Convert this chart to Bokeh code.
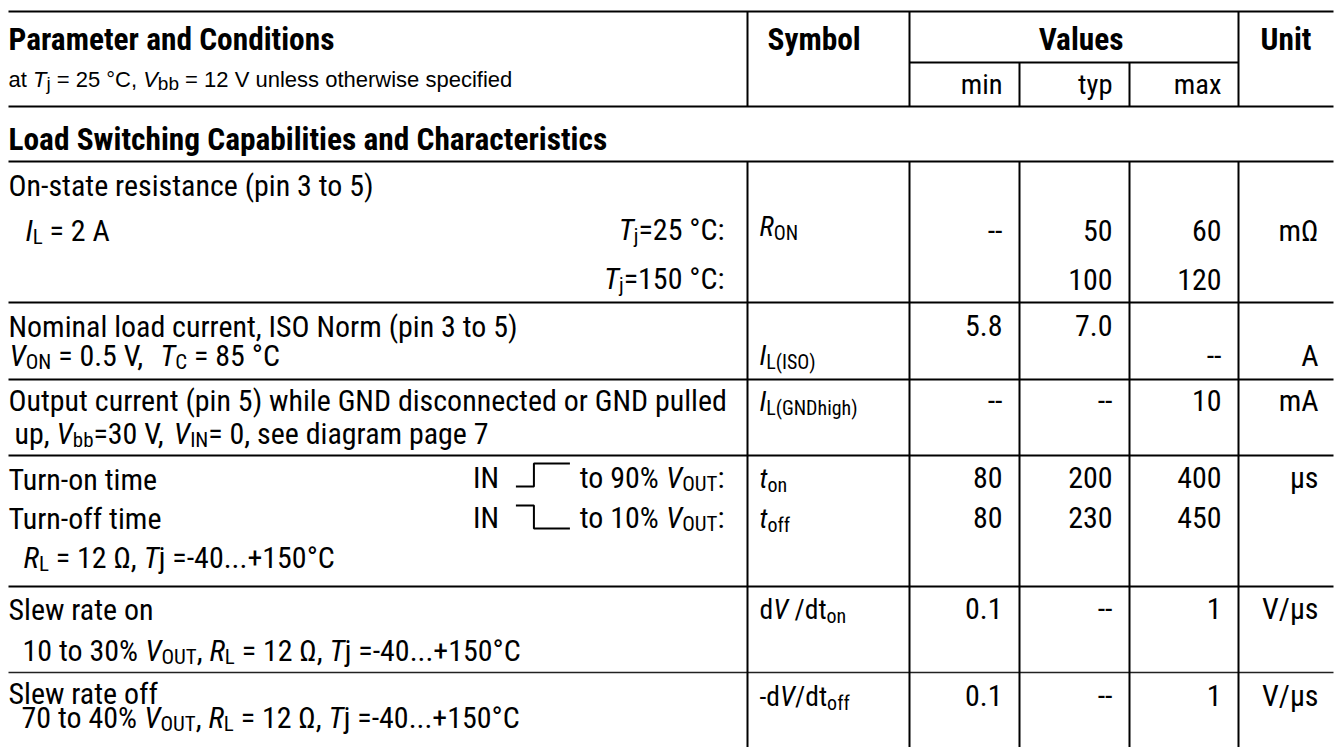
import os
import re
import struct
from bokeh.plotting import figure
from bokeh.models import Range1d
from bokeh.core.properties import value
from bokeh.embed import file_html
from bokeh.resources import INLINE

# ---------------- DATA ----------------
header_titles = ["Parameter and Conditions", "Symbol", "Values", "Unit"]
header_sub = "at *T*_{j} = 25 °C, *V*_{bb} = 12 V unless otherwise specified"
value_cols = ["min", "typ", "max"]
section_title = "Load Switching Capabilities and Characteristics"

param_text = [
    "On-state resistance (pin 3 to 5)",
    "*I*_{L} = 2 A",
    "*T*_{j}=25 °C:",
    "*T*_{j}=150 °C:",
    "Nominal load current, ISO Norm (pin 3 to 5)",
    "*V*_{ON} = 0.5 V,  *T*_{C} = 85 °C",
    "Output current (pin 5) while GND disconnected or GND pulled",
    "up, *V*_{bb}=30 V, *V*_{IN}= 0, see diagram page 7",
    "Turn-on time",
    "IN [UP] to 90% *V*_{OUT}:",
    "Turn-off time",
    "IN [DN] to 10% *V*_{OUT}:",
    "*R*_{L} = 12 Ω, *T*j =-40...+150°C",
    "Slew rate on",
    "10 to 30% *V*_{OUT}, *R*_{L} = 12 Ω, *T*j =-40...+150°C",
    "Slew rate off",
    "70 to 40% *V*_{OUT}, *R*_{L} = 12 Ω, *T*j =-40...+150°C",
]
symbols = ["*R*_{ON}", "*I*_{L(ISO)}", "*I*_{L(GNDhigh)}", "*t*_{on}", "*t*_{off}",
           "d*V* /dt_{on}", "-d*V*/dt_{off}"]
min_vals = ["--", "", "5.8", "", "--", "80", "80", "0.1", "0.1"]
typ_vals = ["50", "100", "7.0", "", "--", "200", "230", "--", "--"]
max_vals = ["60", "120", "", "--", "10", "400", "450", "1", "1"]
units = ["mΩ", "", "", "A", "mA", "µs", "", "V/µs", "V/µs"]

# ---------------- LAYOUT ----------------
W, H = 1335, 747
LINE_LEFT, LINE_RIGHT = 8, 1333
BODY = 31.5          # reference sizes (Helvetica-Narrow px)
SUB = 22.0
SYM = 29.0
SYM_SUB = 21.0
COLS = [747, 909, 1019, 1129, 1238]
VAL_RIGHT = [1002, 1112, 1221]
UNIT_RIGHT = 1318
SYM_X = 759
header_y = 50
header_sub_y = 87
values_rule_y = 62
mmm_y = 94
section_y = 150
hrules = [11, 106, 161, 302, 379, 455, 586]
thin_rules = [672]
param_layout = [
    ("left", 8, 195), ("left", 25, 240), ("right", 724, 239), ("right", 724, 288),
    ("left", 8, 336), ("left", 9, 365),
    ("left", 8, 410), ("left", 14, 443),
    ("left", 8, 489), ("right", 724, 487), ("left", 8, 528), ("right", 724, 527),
    ("left", 23, 567),
    ("left", 8, 619), ("left", 22, 660),
    ("left", 8, 703), ("left", 21, 727),
]
sym_y = [235, 364, 410, 487, 527, 618, 705]
val_y = [240, 289, 335, 365, 410, 487, 527, 618, 705]
STEP_W = 67

# ---------------- FONT METRICS ----------------
_chars = " !\"#$%&'()*+,-./0123456789:;<=>?@ABCDEFGHIJKLMNOPQRSTUVWXYZ[\\]^_`abcdefghijklmnopqrstuvwxyz{|}~"
_reg = [278,278,355,556,556,889,667,191,333,333,389,584,278,333,278,278,
        556,556,556,556,556,556,556,556,556,556,278,278,584,584,584,556,1015,
        667,667,722,722,667,611,778,722,278,500,667,556,833,722,778,667,778,722,667,611,722,667,944,667,667,611,
        278,278,278,469,556,333,
        556,556,500,556,556,278,556,556,222,222,500,222,833,556,556,556,556,333,500,278,556,500,722,500,500,500,
        334,260,334,584]
_bold = [278,333,474,556,556,889,722,238,333,333,389,584,278,333,278,278,
         556,556,556,556,556,556,556,556,556,556,333,333,584,584,584,611,975,
         722,722,722,722,667,611,778,722,278,556,722,611,833,722,778,667,778,722,667,611,722,667,944,667,667,611,
         333,278,333,584,556,333,
         556,611,556,611,556,333,611,611,278,278,556,278,889,611,611,611,611,389,556,333,611,556,778,556,556,500,
         389,280,389,584]
HREG = dict(zip(_chars, _reg))
HBOLD = dict(zip(_chars, _bold))
for _d in (HREG, HBOLD):
    _d.update({"°": 400, "Ω": 768, "µ": 576})


def helv(tab):
    return lambda c: tab.get(c, 556) / 1000.0


def load_ttf(path):
    try:
        data = open(path, "rb").read()
        off = 0
        if data[:4] == b"ttcf":
            off = struct.unpack(">I", data[12:16])[0]
        num = struct.unpack(">H", data[off + 4:off + 6])[0]
        tabs = {}
        for i in range(num):
            r = off + 12 + 16 * i
            tag = data[r:r + 4].decode("latin-1")
            tabs[tag] = struct.unpack(">I", data[r + 8:r + 12])[0]
        hd = tabs["head"]
        upem = struct.unpack(">H", data[hd + 18:hd + 20])[0]
        hh = tabs["hhea"]
        asc, desc = struct.unpack(">hh", data[hh + 4:hh + 8])
        nhm = struct.unpack(">H", data[hh + 34:hh + 36])[0]
        if "OS/2" in tabs:
            o2 = tabs["OS/2"]
            fs_sel = struct.unpack(">H", data[o2 + 62:o2 + 64])[0]
            if fs_sel & 0x80:
                asc, desc = struct.unpack(">hh", data[o2 + 68:o2 + 72])
        hm = tabs["hmtx"]
        adv = struct.unpack(">%dH" % (2 * nhm), data[hm:hm + 4 * nhm])[0::2]
        cm = tabs["cmap"]
        n = struct.unpack(">H", data[cm + 2:cm + 4])[0]
        sub = None
        for i in range(n):
            pid, eid, so = struct.unpack(">HHI", data[cm + 4 + 8 * i:cm + 12 + 8 * i])
            if struct.unpack(">H", data[cm + so:cm + so + 2])[0] == 4 and (pid == 0 or (pid == 3 and eid == 1)):
                sub = cm + so
                break
        if sub is None:
            return None
        seg2 = struct.unpack(">H", data[sub + 6:sub + 8])[0]
        segc = seg2 // 2
        ends = struct.unpack(">%dH" % segc, data[sub + 14:sub + 14 + seg2])
        starts = struct.unpack(">%dH" % segc, data[sub + 16 + seg2:sub + 16 + 2 * seg2])
        deltas = struct.unpack(">%dh" % segc, data[sub + 16 + 2 * seg2:sub + 16 + 3 * seg2])
        rpos = sub + 16 + 3 * seg2
        roffs = struct.unpack(">%dH" % segc, data[rpos:rpos + seg2])

        def gid(cp):
            for k in range(segc):
                if ends[k] >= cp:
                    if starts[k] > cp:
                        return 0
                    if roffs[k] == 0:
                        return (cp + deltas[k]) & 0xFFFF
                    a = rpos + 2 * k + roffs[k] + 2 * (cp - starts[k])
                    g = struct.unpack(">H", data[a:a + 2])[0]
                    return (g + deltas[k]) & 0xFFFF if g else 0
            return 0

        cache = {}

        def width(c):
            if c not in cache:
                g = gid(ord(c))
                cache[c] = adv[min(g, nhm - 1)] / upem if g else 0.5
            return cache[c]

        return {"w": width, "asc": asc / upem, "desc": abs(desc) / upem}
    except Exception:
        return None


font_files = {}
for d in ["/usr/share/fonts", "/usr/local/share/fonts",
          os.path.expanduser("~/.fonts"), os.path.expanduser("~/.local/share/fonts")]:
    for root, _, fs in os.walk(d):
        for f in fs:
            stem, ext = os.path.splitext(f)
            if ext.lower() in (".ttf", ".otf"):
                font_files.setdefault(stem.lower(), os.path.join(root, f))

CANDIDATES = [
    ("Liberation Sans Narrow", "liberationsansnarrow-regular", "liberationsansnarrow-bold", "liberationsansnarrow-italic"),
    ("Nimbus Sans Narrow", "nimbussansnarrow-regular", "nimbussansnarrow-bold", "nimbussansnarrow-oblique"),
    ("Roboto Condensed", "robotocondensed-regular", "robotocondensed-bold", "robotocondensed-italic"),
    ("Liberation Sans", "liberationsans-regular", "liberationsans-bold", "liberationsans-italic"),
]


def make_font(cands):
    for fam, n, b, i in cands:
        if n in font_files:
            reg = load_ttf(font_files[n])
            if reg is None:
                continue
            bold = load_ttf(font_files[b]) if b in font_files else None
            ital = load_ttf(font_files[i]) if i in font_files else None
            return {"family": fam, "normal": reg, "bold": bold or reg, "italic": ital or reg}
    base = {"w": helv(HREG), "asc": 0.905, "desc": 0.212}
    return {"family": "Liberation Sans", "normal": base,
            "bold": {"w": helv(HBOLD), "asc": 0.905, "desc": 0.212}, "italic": base}


def strip_markup(s):
    return re.sub(r"\[UP\]|\[DN\]|[*_{}]", "", s)


NARROW = make_font(CANDIDATES)
WIDE = make_font(CANDIDATES[-1:])
WIDE["k"] = WIDE["kb"] = 1.0
# scale the chosen face so that its widths equal Helvetica-Narrow widths of the reference
_sample = "".join(strip_markup(s) for s in param_text)
_bsample = section_title + "".join(header_titles)
_kr = sum(HREG.get(c, 556) / 1000.0 for c in _sample) * 0.82 / sum(NARROW["normal"]["w"](c) for c in _sample)
_kb = sum(HBOLD.get(c, 556) / 1000.0 for c in _bsample) * 0.82 / sum(NARROW["bold"]["w"](c) for c in _bsample)
NARROW["k"] = min(_kr, 1.05)
NARROW["kb"] = min(_kb, 1.05)

TOKEN = re.compile(r"(\*[^*]+\*|_\{[^}]*\}|\[UP\]|\[DN\])")


def parse(s):
    segs = []
    for part in TOKEN.split(s):
        if not part:
            continue
        if part.startswith("*"):
            segs.append(("i", part[1:-1]))
        elif part.startswith("_{"):
            segs.append(("s", part[2:-1]))
        elif part in ("[UP]", "[DN]"):
            segs.append(("g", part))
        else:
            segs.append(("n", part))
    return segs


p = figure(width=W, height=H, x_range=Range1d(0, W), y_range=Range1d(H, 0),
           output_backend="svg", toolbar_location=None, min_border=0)
p.axis.visible = False
p.grid.visible = False
p.outline_line_color = None
p.background_fill_color = "white"
p.border_fill_color = "white"

steps = []


def rich(s, x, y, align="left", size=BODY, sub=SUB, drop=4, font=None, bold=False):
    font = font or NARROW
    k = font["kb"] if bold else font["k"]
    segs = parse(s)
    items = []
    for kind, t in segs:
        if kind == "g":
            items.append((kind, t, None, 0, STEP_W))
            continue
        face_key = "italic" if kind == "i" else ("bold" if bold else "normal")
        face = font[face_key]
        px = (sub if kind == "s" else size) * k
        w = sum(face["w"](c) for c in t) * px
        items.append((kind, t, face_key, px, w))
    total = sum(it[4] for it in items)
    cx = x - total if align == "right" else (x - total / 2 if align == "center" else x)
    for kind, t, face_key, px, w in items:
        if kind == "g":
            steps.append((t, cx, y))
        else:
            face = font[face_key]
            lead = len(t) - len(t.lstrip(" "))
            sx = cx + face["w"](" ") * px * lead
            txt = t.strip(" ")
            if txt:
                base = y + (drop if kind == "s" else 0)
                corr = (face["asc"] - face["desc"]) / 2.0 * px
                p.text(x=[sx], y=[base - corr], text=[txt], text_font=value(font["family"]),
                       text_font_size="%.2fpx" % px, text_font_style=face_key,
                       text_align="left", text_baseline="alphabetic", text_color="#000000")
        cx += w


# rules
p.segment(x0=[LINE_LEFT] * len(hrules), y0=hrules, x1=[LINE_RIGHT] * len(hrules), y1=hrules,
          line_color="black", line_width=2)
p.segment(x0=[LINE_LEFT] * len(thin_rules), y0=thin_rules, x1=[LINE_RIGHT] * len(thin_rules),
          y1=thin_rules, line_color="#222222", line_width=1.5)
p.segment(x0=[COLS[1]], y0=[values_rule_y], x1=[COLS[4]], y1=[values_rule_y],
          line_color="black", line_width=2)
hy0 = [hrules[0], hrules[0], values_rule_y, values_rule_y, hrules[0]]
p.segment(x0=COLS, y0=hy0, x1=COLS, y1=[hrules[1]] * 5, line_color="black", line_width=2)
p.segment(x0=COLS, y0=[hrules[2]] * 5, x1=COLS, y1=[H] * 5, line_color="black", line_width=2)

# header
rich(header_titles[0], LINE_LEFT, header_y, size=32, bold=True)
rich(header_titles[1], COLS[0] + 20, header_y, size=32, bold=True)
rich(header_titles[2], 1081, header_y, align="center", size=32, bold=True)
rich(header_titles[3], (COLS[4] + LINE_RIGHT) / 2, header_y, align="center", size=32, bold=True)
rich(header_sub, LINE_LEFT, header_sub_y, size=22, sub=19, drop=3, font=WIDE)
for name, xr in zip(value_cols, VAL_RIGHT):
    rich(name, xr, mmm_y, align="right", size=30)
rich(section_title, LINE_LEFT, section_y, size=32, bold=True)

# parameter column
for s, (al, x, y) in zip(param_text, param_layout):
    rich(s, x, y, align=al)

# symbols
for s, y in zip(symbols, sym_y):
    rich(s, SYM_X, y, size=SYM, sub=SYM_SUB, drop=4)

# values
for vals, xr in zip((min_vals, typ_vals, max_vals), VAL_RIGHT):
    for v, y in zip(vals, val_y):
        if v:
            rich(v, xr, y, align="right")
for u, y in zip(units, val_y):
    if u:
        rich(u, UNIT_RIGHT, y, align="right")

# step symbols (IN pulse edges)
for kind, gx, y in steps:
    a, b, c = gx + 10, gx + 28, gx + STEP_W - 3
    if kind == "[UP]":
        lo, hi = y - 1, y - 24
        p.line(x=[a, b, b, c], y=[lo, lo, hi, hi], line_color="black", line_width=2)
    else:
        hi, lo = y - 22, y + 1
        p.line(x=[a, b, b, c], y=[hi, hi, lo, lo], line_color="black", line_width=2)

open("out.html", "w").write(file_html(p, INLINE))
